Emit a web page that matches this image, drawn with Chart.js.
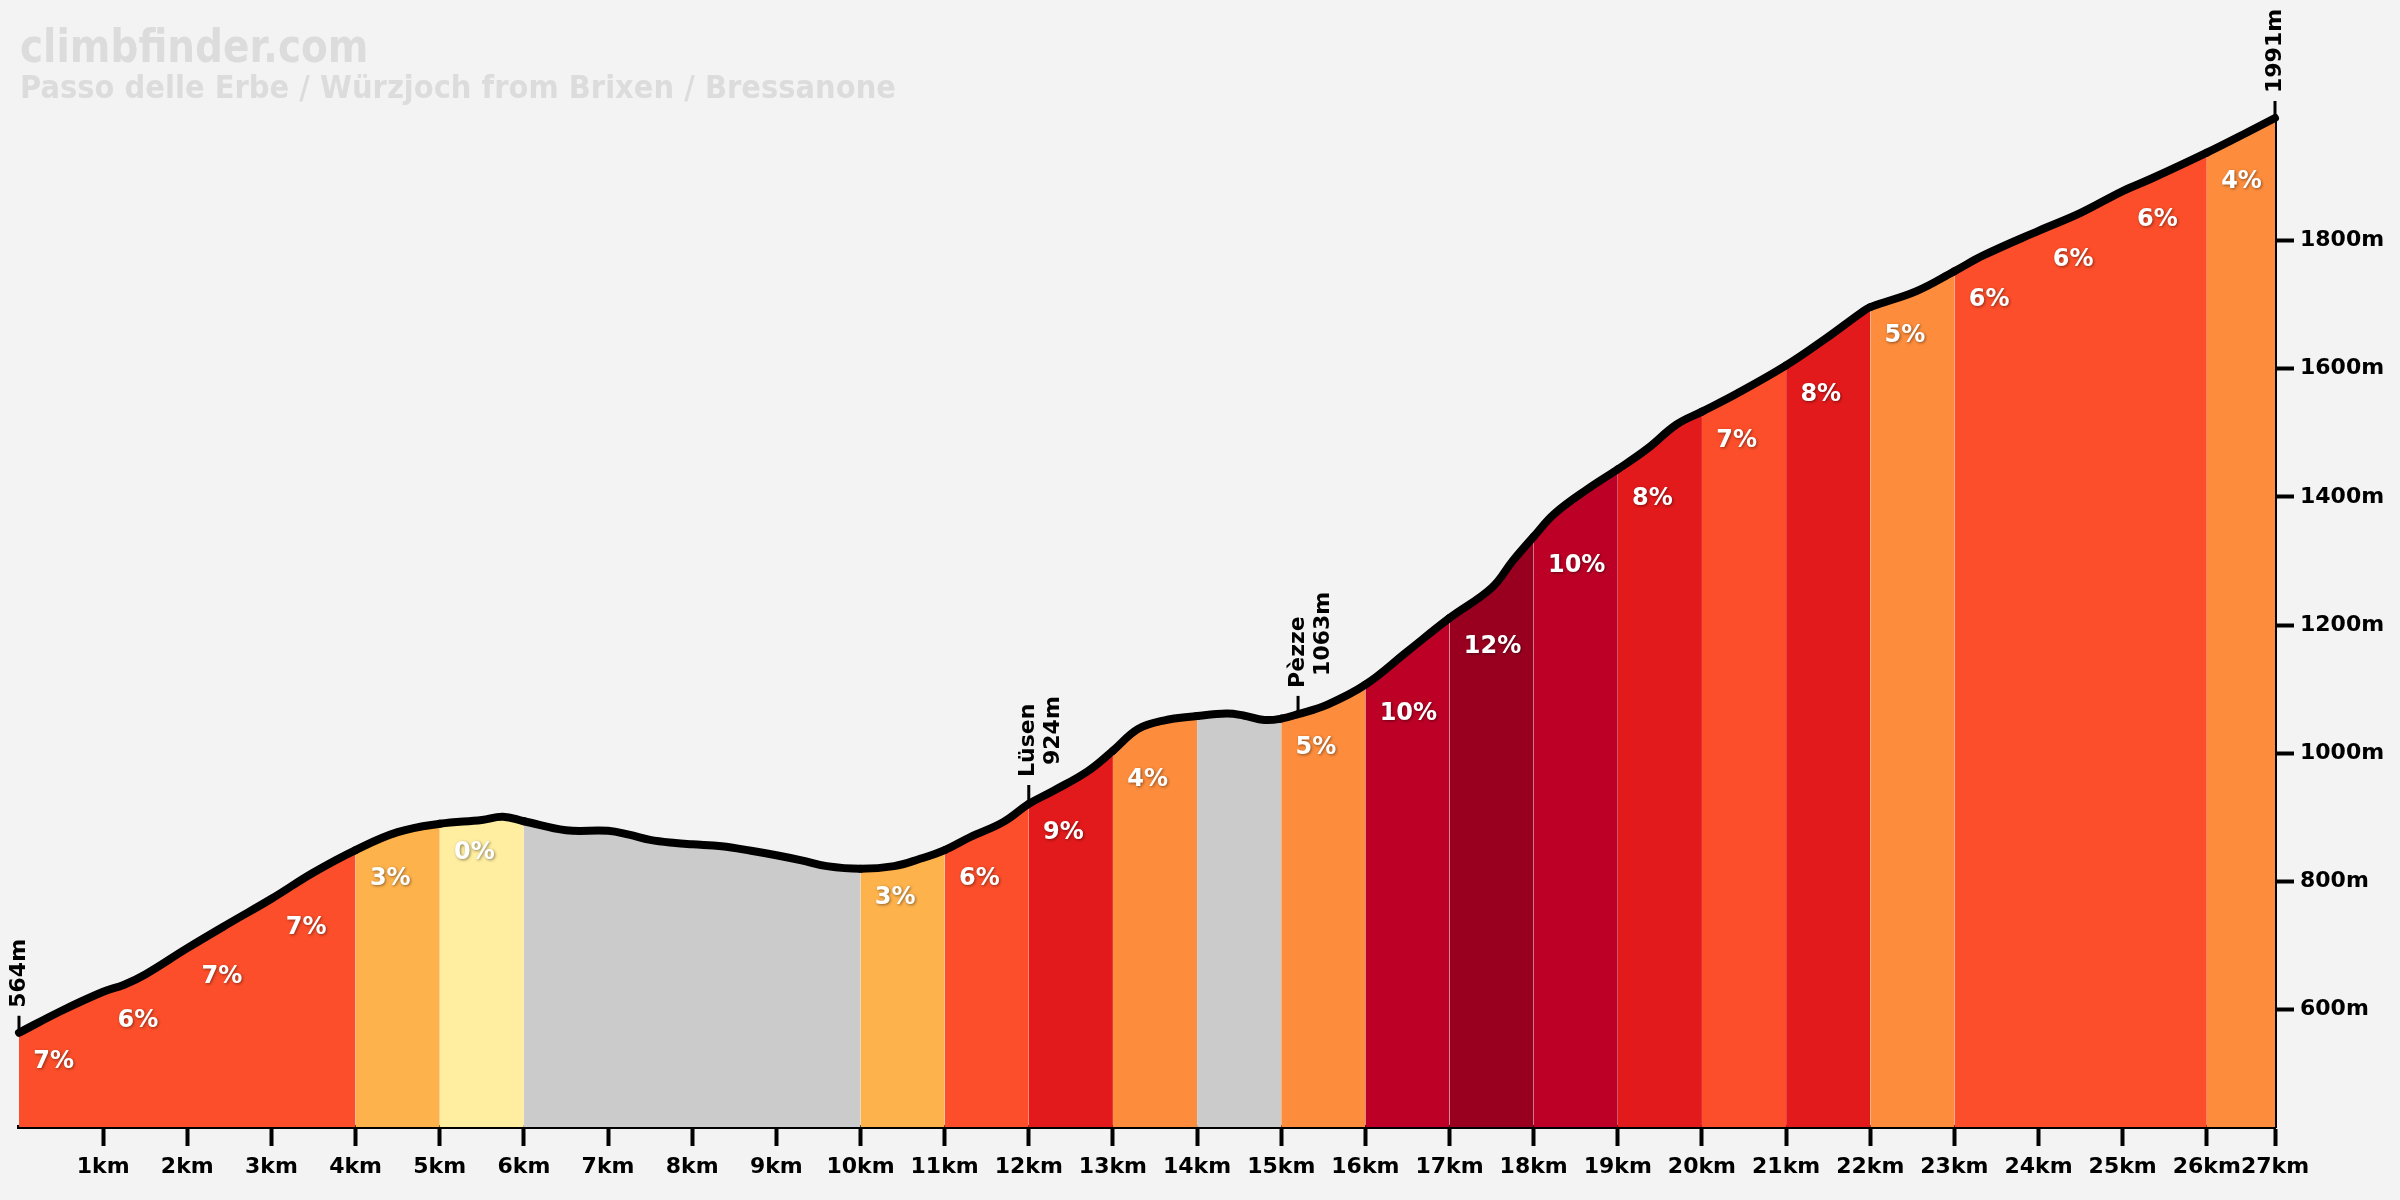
<!DOCTYPE html>
<html>
<head>
    <meta charset="UTF-8">
    <title>Passo delle Erbe / Würzjoch</title>
    <script src="https://cdn.jsdelivr.net/npm/chart.js"></script>
    <style>
        body {
          margin: 0;
          padding: 0;
          background-color: #f3f3f3;
        }
        canvas {
          display: block;
        }
    </style>
</head>
<body>
<canvas id="profileChart" width="2400" height="1200"></canvas>

<script>
    // profile: distance (km) and elevation (m)
    const distKm = [0, 0.5, 1, 1.25, 1.5, 2, 2.5, 3, 3.5, 4, 4.5, 5, 5.5, 5.75, 6, 6.5, 7, 7.25, 7.5, 7.8,
      8, 8.35, 8.7, 9, 9.3, 9.6, 10, 10.4, 10.7, 11, 11.3, 11.7, 12, 12.3, 12.7, 13, 13.3, 13.6, 14, 14.35,
      14.55, 14.8, 15, 15.2, 15.55, 16, 16.5, 17, 17.5, 17.75, 18, 18.25, 18.65, 19, 19.35, 19.7, 20, 20.4,
      21, 21.45, 21.9, 22, 22.55, 23, 23.35, 24, 24.5, 25, 25.35, 26, 26.5, 26.81];
    const elevM = [564, 598, 628, 639, 655, 696, 735, 773, 814, 849, 877, 890, 896, 901, 894, 880, 879, 873, 865, 860,
      858, 855, 848, 841, 833, 824, 820, 824, 835, 849, 869, 893, 921, 942, 972, 1004, 1038, 1051, 1058, 1062,
      1059, 1052, 1054, 1061, 1076, 1107, 1159, 1211, 1258, 1300, 1338, 1374, 1413, 1443, 1475, 1513, 1533, 1560,
      1605, 1645, 1688, 1696, 1721, 1752, 1777, 1815, 1843, 1877, 1897, 1937, 1970, 1991];

    // gradient of each km (null = descent, grey and unlabelled)
    const segGrade = [7, 6, 7, 7, 3, 0, null, null, null, null, 3, 6, 9, 4, null, 5, 10, 12, 10, 8, 7, 8, 5, 6, 6, 6, 4];

    const xTickKm = [1, 2, 3, 4, 5, 6, 7, 8, 9, 10, 11, 12, 13, 14, 15, 16, 17, 18, 19, 20, 21, 22, 23, 24, 25, 26, 26.81];
    const xTickLabels = ["1km", "2km", "3km", "4km", "5km", "6km", "7km", "8km", "9km", "10km", "11km", "12km", "13km",
      "14km", "15km", "16km", "17km", "18km", "19km", "20km", "21km", "22km", "23km", "24km", "25km", "26km", "27km"];
    const yTickM = [600, 800, 1000, 1200, 1400, 1600, 1800];

    const markerKm = [0, 12.0, 15.2, 26.81];
    const markerElev = [564, 924, 1063, 1991];
    const markerName = ["", "Lüsen", "Pèzze", ""];

    const siteName = "climbfinder.com";
    const climbName = "Passo delle Erbe / Würzjoch from Brixen / Bressanone";

    function gradeColor(g) {
      if (g === null || g === undefined) return "#cbcbcb";
      if (g <= 0) return "#ffeda0";
      if (g <= 3) return "#feb24c";
      if (g <= 5) return "#fd8d3c";
      if (g <= 7) return "#fc4e2a";
      if (g <= 9) return "#e31a1c";
      if (g <= 11) return "#bd0026";
      return "#990020";
    }

    const boldFont = "bold 22px 'DejaVu Sans'";

    const backdropPlugin = {
      id: "backdrop",
      beforeDraw(chart) {
        const ctx = chart.ctx;
        ctx.save();
        ctx.fillStyle = "#f3f3f3";
        ctx.fillRect(0, 0, chart.width, chart.height);
        ctx.fillStyle = "#dcdcdc";
        ctx.textBaseline = "alphabetic";
        ctx.textAlign = "left";
        ctx.save();
        ctx.translate(20, 62);
        ctx.scale(1, 1.2);
        ctx.font = "bold 39px 'DejaVu Sans'";
        ctx.fillText(siteName, 0, 0);
        ctx.restore();
        ctx.save();
        ctx.translate(20, 98);
        ctx.scale(1, 1.1);
        ctx.font = "bold 29px 'DejaVu Sans'";
        ctx.fillText(climbName, 0, 0);
        ctx.restore();
        ctx.restore();
      }
    };

    const gradeLabelPlugin = {
      id: "gradeLabels",
      afterDatasetsDraw(chart) {
        const ctx = chart.ctx;
        const xs = chart.scales.x, ys = chart.scales.y;
        ctx.save();
        ctx.font = "bold 24px 'DejaVu Sans'";
        ctx.fillStyle = "#ffffff";
        ctx.textAlign = "left";
        ctx.textBaseline = "middle";
        ctx.shadowColor = "rgba(0,0,0,0.45)";
        ctx.shadowBlur = 3;
        ctx.shadowOffsetX = 1;
        ctx.shadowOffsetY = 1;
        segGrade.forEach((g, i) => {
          if (g === null) return;
          const idx = distKm.indexOf(i);
          const x = xs.getPixelForValue(i + 0.17);
          const y = ys.getPixelForValue(elevM[idx]) + 29;
          ctx.fillText(g + "%", x, y);
        });
        ctx.restore();
      }
    };

    const markerPlugin = {
      id: "markers",
      afterDatasetsDraw(chart) {
        const ctx = chart.ctx;
        const xs = chart.scales.x, ys = chart.scales.y;
        ctx.save();
        ctx.strokeStyle = "#000";
        ctx.fillStyle = "#000";
        ctx.lineWidth = 3;
        ctx.font = boldFont;
        ctx.textAlign = "left";
        ctx.textBaseline = "middle";
        markerKm.forEach((km, i) => {
          const x = xs.getPixelForValue(km);
          const y = ys.getPixelForValue(markerElev[i]);
          ctx.beginPath();
          ctx.moveTo(x, y);
          ctx.lineTo(x, y - 17);
          ctx.stroke();
          const lines = markerName[i] ? [markerName[i], markerElev[i] + "m"] : [markerElev[i] + "m"];
          lines.forEach((t, j) => {
            ctx.save();
            ctx.translate(x + j * 25, y - 25 - j * 12);
            ctx.rotate(-Math.PI / 2);
            ctx.fillText(t, 0, 0);
            ctx.restore();
          });
        });
        ctx.restore();
      }
    };

    const points = distKm.map((d, i) => ({ x: d, y: elevM[i] }));

    const ctx = document.getElementById("profileChart").getContext("2d");
    new Chart(ctx, {
      type: "line",
      data: {
        datasets: [{
          data: points,
          borderColor: "#000",
          borderWidth: 8,
          borderJoinStyle: "round",
          borderCapStyle: "round",
          pointRadius: 0,
          fill: "start",
          backgroundColor: "#fc4e2a",
          tension: 0.4,
          clip: false,
          segment: {
            backgroundColor: c => {
              const mid = (distKm[c.p0DataIndex] + distKm[c.p1DataIndex]) / 2;
              return gradeColor(segGrade[Math.min(Math.floor(mid), segGrade.length - 1)]);
            }
          }
        }]
      },
      options: {
        responsive: false,
        animation: false,
        devicePixelRatio: 1,
        layout: {
          padding: { left: 19, top: 118, right: 0, bottom: 0 }
        },
        plugins: {
          legend: { display: false },
          tooltip: { enabled: false }
        },
        scales: {
          x: {
            type: "linear",
            min: 0,
            max: 26.81,
            afterBuildTicks: s => { s.ticks = xTickKm.map(v => ({ value: v })); },
            afterFit: s => { s.height = 73; },
            ticks: {
              autoSkip: false,
              maxRotation: 0,
              minRotation: 0,
              padding: 8,
              color: "#000",
              font: { family: "DejaVu Sans", weight: "bold", size: 22 },
              callback: function(value) {
                const i = xTickKm.indexOf(value);
                return i >= 0 ? xTickLabels[i] : "";
              }
            },
            grid: {
              drawOnChartArea: false,
              drawTicks: true,
              tickLength: 19,
              tickWidth: 4,
              tickColor: "#000"
            },
            border: { display: true, color: "#000", width: 4 }
          },
          y: {
            position: "right",
            min: 417,
            max: 1991,
            afterBuildTicks: s => { s.ticks = yTickM.map(v => ({ value: v })); },
            afterFit: s => { s.width = 125; },
            ticks: {
              padding: 6,
              color: "#000",
              font: { family: "DejaVu Sans", weight: "bold", size: 22 },
              callback: function(value) {
                return value + "m";
              }
            },
            grid: {
              drawOnChartArea: false,
              drawTicks: true,
              tickLength: 19,
              tickWidth: 4,
              tickColor: "#000"
            },
            border: { display: true, color: "#000", width: 4 }
          }
        }
      },
      plugins: [backdropPlugin, gradeLabelPlugin, markerPlugin]
    });
</script>
</body>
</html>
